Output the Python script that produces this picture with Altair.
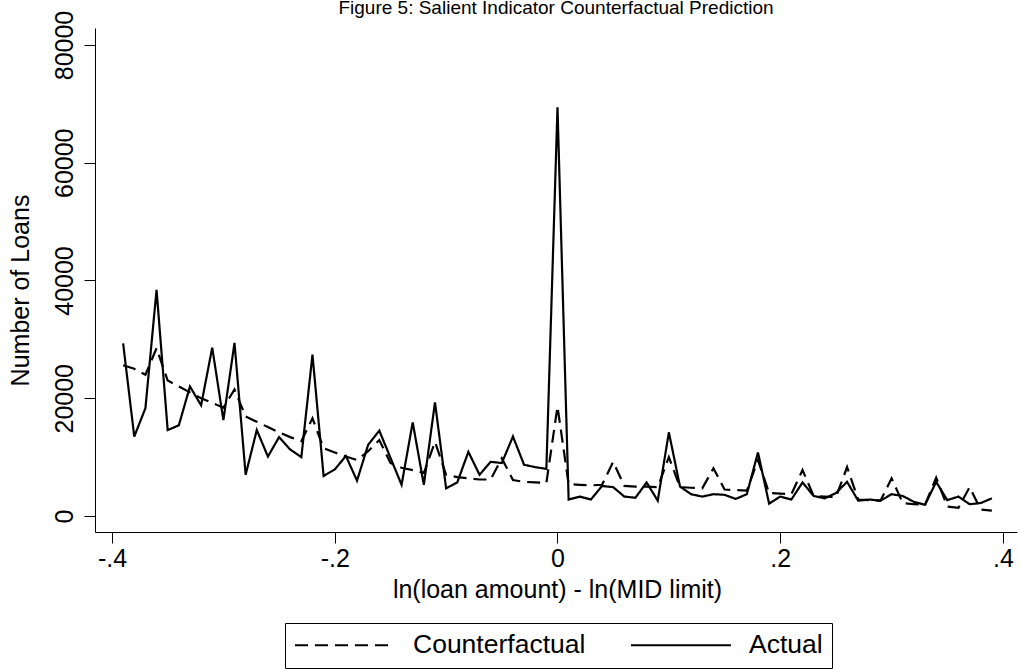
import altair as alt
import pandas as pd

FONT = "Liberation Sans"

# Bin centres: ln(loan amount) - ln(MID limit)
bins = [
    -0.39, -0.38, -0.37, -0.36, -0.35, -0.34, -0.33, -0.32, -0.31, -0.30,
    -0.29, -0.28, -0.27, -0.26, -0.25, -0.24, -0.23, -0.22, -0.21, -0.20,
    -0.19, -0.18, -0.17, -0.16, -0.15, -0.14, -0.13, -0.12, -0.11, -0.10,
    -0.09, -0.08, -0.07, -0.06, -0.05, -0.04, -0.03, -0.02, -0.01, 0.00,
    0.01, 0.02, 0.03, 0.04, 0.05, 0.06, 0.07, 0.08, 0.09, 0.10,
    0.11, 0.12, 0.13, 0.14, 0.15, 0.16, 0.17, 0.18, 0.19, 0.20,
    0.21, 0.22, 0.23, 0.24, 0.25, 0.26, 0.27, 0.28, 0.29, 0.30,
    0.31, 0.32, 0.33, 0.34, 0.35, 0.36, 0.37, 0.38, 0.39,
]

# Observed number of loans per bin
actual = [
    29300, 13500, 18300, 38400, 14600, 15400, 22000, 18800, 28600, 16300,
    29400, 7000, 14600, 10100, 13400, 11300, 10000, 27400, 6800, 7900,
    10200, 6000, 12100, 14500, 9900, 5300, 15900, 5300, 19300, 4700,
    5700, 10900, 7000, 9200, 9000, 13500, 8700, 8300, 8000, 69400,
    2800, 3300, 2800, 5100, 4900, 3300, 3100, 5700, 2600, 14200,
    5000, 3700, 3300, 3700, 3600, 2900, 3700, 10800, 2100, 3300,
    2800, 5700, 3400, 3000, 3900, 5800, 2600, 2800, 2600, 3700,
    3400, 2400, 1900, 5800, 2700, 3300, 2000, 2200, 3000,
]

# Predicted number of loans without the salient indicator
counterfactual = [
    25600, 25000, 24000, 28500, 23000, 22000, 21000, 20000, 19200, 18400,
    21500, 16900, 16000, 15100, 14200, 13400, 12700, 16600, 11500, 10800,
    10100, 9500, 11000, 12900, 9000, 8200, 7800, 7300, 12600, 7000,
    6600, 6400, 6200, 6200, 9800, 6100, 5800, 5700, 5600, 18600,
    5400, 5300, 5200, 5300, 9200, 5100, 5000, 5000, 4900, 10000,
    4900, 4800, 4700, 8100, 4500, 4400, 4300, 9500, 3900, 3800,
    3700, 7800, 3400, 3300, 3200, 8300, 2800, 2700, 2600, 6400,
    2200, 2000, 1900, 6500, 1600, 1400, 4900, 1100, 900,
]

series_names = ["Counterfactual", "Actual"]

df = pd.concat([
    pd.DataFrame({"bin": bins, "loans": counterfactual, "series": series_names[0]}),
    pd.DataFrame({"bin": bins, "loans": actual, "series": series_names[1]}),
])

x_enc = alt.X(
    "bin:Q",
    scale=alt.Scale(domain=[-0.41526, 0.41257], nice=False, zero=False),
    axis=alt.Axis(
        values=[-0.4, -0.2, 0, 0.2, 0.4],
        labelExpr="datum.value == 0 ? '0' : (datum.value < 0 ? '-.' : '.') + round(abs(datum.value) * 10)",
        title="ln(loan amount) - ln(MID limit)",
        grid=False,
        domainColor="black",
        domainWidth=1,
        tickColor="black",
        tickSize=11,
        tickWidth=1,
        labelFont=FONT,
        labelFontSize=25,
        labelColor="black",
        labelPadding=3,
        labelFlush=False,
        labelOverlap=False,
        titleFont=FONT,
        titleFontSize=25,
        titleFontWeight="normal",
        titleColor="black",
        titleX=462,
        titleY=65,
        titleAlign="center",
        titleBaseline="alphabetic",
    ),
)

y_enc = alt.Y(
    "loans:Q",
    scale=alt.Scale(domain=[-2718, 82887], nice=False, zero=False),
    axis=alt.Axis(
        values=[0, 20000, 40000, 60000, 80000],
        format="d",
        title="Number of Loans",
        grid=False,
        domainColor="black",
        domainWidth=1,
        tickColor="black",
        tickSize=11,
        tickWidth=1,
        labelFont=FONT,
        labelFontSize=25,
        labelColor="black",
        labelAngle=270,
        labelAlign="center",
        labelBaseline="alphabetic",
        labelPadding=12,
        labelOverlap=False,
        titleFont=FONT,
        titleFontSize=25,
        titleFontWeight="normal",
        titleColor="black",
        titleAngle=270,
        titleX=-67,
        titleY=262,
        titleAlign="center",
        titleBaseline="alphabetic",
    ),
)

dash_enc = alt.StrokeDash(
    "series:N",
    scale=alt.Scale(domain=series_names, range=[[13, 7], [1, 0]]),
    legend=alt.Legend(
        title="",
        orient="none",
        legendX=190,
        legendY=595,
        direction="horizontal",
        strokeColor="black",
        fillColor="white",
        padding=9,
        symbolType="stroke",
        symbolSize=10000,
        symbolStrokeWidth=2,
        symbolStrokeColor="black",
        clipHeight=26,
        labelFont=FONT,
        labelFontSize=26.5,
        labelColor="black",
        labelOffset=17,
        labelLimit=400,
        columnPadding=44,
    ),
)

base = alt.Chart(df).mark_line(color="black", strokeWidth=2.2).encode(
    x=x_enc, y=y_enc, strokeDash=dash_enc
)

cf_line = base.transform_filter(alt.datum.series == "Counterfactual")
actual_line = base.transform_filter(alt.datum.series == "Actual")

chart = alt.layer(cf_line, actual_line).properties(
    width=922,
    height=504,
    title=alt.TitleParams(
        "Figure 5: Salient Indicator Counterfactual Prediction",
        font=FONT,
        fontSize=19,
        fontWeight="normal",
        color="black",
        anchor="middle",
        frame="group",
        baseline="alphabetic",
        offset=0,
        dy=23,
    ),
    padding={"left": 95, "top": 28, "right": 3, "bottom": 137},
    autosize=alt.AutoSizeParams(type="none"),
).configure_view(stroke="transparent")

chart.save("out.html", embed_options={"renderer": "svg", "actions": False})
